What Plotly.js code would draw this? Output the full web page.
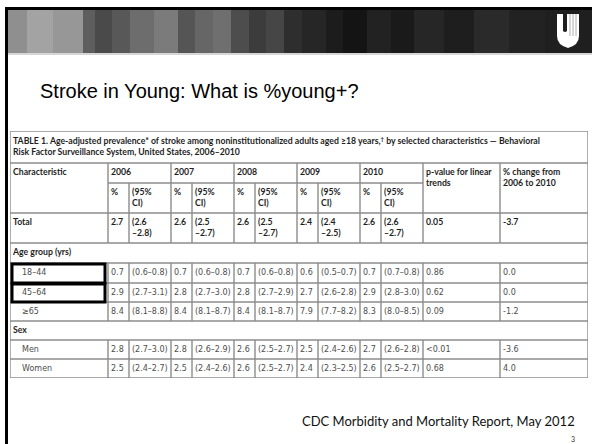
<!DOCTYPE html>
<html><head><meta charset="utf-8">
<script src="https://cdn.plot.ly/plotly-3.0.1.min.js"></script>
<style>html,body{margin:0;padding:0;background:#fff}#chart{width:592px;height:444px}</style>
</head><body><div id="chart"></div>
<script>
// ---------------- data ----------------
const slideTitle = 'Stroke in Young: What is %young+?';
const tableTitle = ['TABLE 1. Age-adjusted prevalence* of stroke among noninstitutionalized adults aged ≥18 years,<sup>†</sup> by selected characteristics — Behavioral',
                    'Risk Factor Surveillance System, United States, 2006–2010'];
const sourceNote = 'CDC Morbidity and Mortality Report, May 2012';
const pageNumber = '3';
const years = ['2006','2007','2008','2009','2010'];
const rowLabels = ['Total','Age group (yrs)','18–44','45–64','≥65','Sex','Men','Women'];
const rowKinds  = ['total','section','item','item','item','section','item','item'];
const pct2006 = [2.7,null,0.7,2.9,8.4,null,2.8,2.5];
const lo2006  = [2.6,null,0.6,2.7,8.1,null,2.7,2.4];
const hi2006  = [2.8,null,0.8,3.1,8.8,null,3.0,2.7];
const pct2007 = [2.6,null,0.7,2.8,8.4,null,2.8,2.5];
const lo2007  = [2.5,null,0.6,2.7,8.1,null,2.6,2.4];
const hi2007  = [2.7,null,0.8,3.0,8.7,null,2.9,2.6];
const pct2008 = [2.6,null,0.7,2.8,8.4,null,2.6,2.6];
const lo2008  = [2.5,null,0.6,2.7,8.1,null,2.5,2.5];
const hi2008  = [2.7,null,0.8,2.9,8.7,null,2.7,2.7];
const pct2009 = [2.4,null,0.6,2.7,7.9,null,2.5,2.4];
const lo2009  = [2.4,null,0.5,2.6,7.7,null,2.4,2.3];
const hi2009  = [2.5,null,0.7,2.8,8.2,null,2.6,2.5];
const pct2010 = [2.6,null,0.7,2.9,8.3,null,2.7,2.6];
const lo2010  = [2.6,null,0.7,2.8,8.0,null,2.6,2.5];
const hi2010  = [2.7,null,0.8,3.0,8.5,null,2.8,2.7];
const pTrend    = ['0.05',null,'0.86','0.62','0.09',null,'<0.01','0.68'];
const pctChange = [-3.7,null,0.0,0.0,-1.2,null,-3.6,4.0];
const highlighted = ['18–44','45–64'];

// ---------------- style / geometry ----------------
const W = 592, H = 444;
const colW = [98,21,42,21,42,21,42,21,42,21,42,77,88];
const rowH = [32,20,30,30,20,20,19,19,19,19,19];
const TL = 10, TT = 131;
const PAD = 3, INDENT = 9, LINE = 10.5;
const GRID = '#8c8c8c';
const REG_FONT = 'DejaVu Sans, Verdana, sans-serif';
const BOLD_FONT = 'Lato, Calibri, sans-serif';
const colE = [0]; colW.forEach(w => colE.push(colE[colE.length-1] + w));
const rowE = [0]; rowH.forEach(h => rowE.push(rowE[rowE.length-1] + h));
const TW = colE[colE.length-1], TH = rowE[rowE.length-1];

const pcts = [pct2006,pct2007,pct2008,pct2009,pct2010];
const los  = [lo2006,lo2007,lo2008,lo2009,lo2010];
const his  = [hi2006,hi2007,hi2008,hi2009,hi2010];
const f1 = v => v.toFixed(1);

const bold = {x:[],y:[],text:[]}, reg = {x:[],y:[],text:[]};
function put(t, col, y, s, extra){ t.x.push(colE[col] + PAD + (extra||0)); t.y.push(y); t.text.push(s); }
function putLines(t, col, yTop, lines, extra){ lines.forEach((s,i) => put(t, col, yTop + i*LINE, s, extra)); }

// table title
putLines(bold, 0, rowE[0] + 11, tableTitle);
// header row 1
const h1 = rowE[1] + rowH[1]/2;
put(bold, 0, h1, 'Characteristic');
years.forEach((yr,i) => put(bold, 1 + 2*i, h1, yr));
putLines(bold, 11, h1, ['p-value for linear','trends']);
putLines(bold, 12, h1, ['% change from','2006 to 2010']);
// header row 2
const h2 = rowE[2] + 10;
years.forEach((yr,i) => { put(bold, 1 + 2*i, h2, '%'); putLines(bold, 2 + 2*i, h2, ['(95%','CI)']); });
// body
rowLabels.forEach((lab, i) => {
  const r = 3 + i, kind = rowKinds[i];
  if (kind === 'section') { put(bold, 0, rowE[r] + rowH[r]/2, lab); return; }
  if (kind === 'total') {
    const yt = rowE[r] + 10;
    put(bold, 0, yt, lab);
    years.forEach((yr,k) => {
      put(bold, 1 + 2*k, yt, f1(pcts[k][i]));
      putLines(bold, 2 + 2*k, yt, ['(' + f1(los[k][i]), '–' + f1(his[k][i]) + ')']);
    });
    put(bold, 11, yt, pTrend[i]); put(bold, 12, yt, f1(pctChange[i]));
    return;
  }
  const yc = rowE[r] + rowH[r]/2;
  put(reg, 0, yc, lab, INDENT - PAD + 3);
  years.forEach((yr,k) => {
    put(reg, 1 + 2*k, yc, f1(pcts[k][i]));
    put(reg, 2 + 2*k, yc, '(' + f1(los[k][i]) + '–' + f1(his[k][i]) + ')');
  });
  put(reg, 11, yc, pTrend[i]); put(reg, 12, yc, f1(pctChange[i]));
});

const traces = [
  {type:'scatter', mode:'text', x:bold.x, y:bold.y, text:bold.text, textposition:'middle right',
   textfont:{family:BOLD_FONT, size:8.7, color:'#1e1e1e', weight:'bold'}, hoverinfo:'skip', showlegend:false, cliponaxis:false},
  {type:'scatter', mode:'text', x:reg.x, y:reg.y, text:reg.text, textposition:'middle right',
   textfont:{family:REG_FONT, size:8, color:'#4d4d4d'}, hoverinfo:'skip', showlegend:false, cliponaxis:false}
];

// ---------------- shapes ----------------
const shapes = [];
const hl = (x0,y0,x1,y1) => shapes.push({type:'line', xref:'x', yref:'y', x0, y0, x1, y1, line:{color:GRID, width:1.4}, layer:'below'});
// horizontal grid
rowE.forEach((y, r) => {
  if (r === 2) hl(colE[1], y, colE[11], y);
  else hl(0, y, TW, y);
});
// vertical grid
hl(0, 0, 0, TH); hl(TW, 0, TW, TH);
for (let r = 1; r < rowH.length; r++) {
  const bodyIdx = r - 3;
  if (bodyIdx >= 0 && rowKinds[bodyIdx] === 'section') continue;
  for (let k = 1; k < colW.length; k++) {
    if (r === 1 && k % 2 === 0 && k <= 10) continue;
    hl(colE[k], rowE[r], colE[k], rowE[r+1]);
  }
}
// highlight boxes
highlighted.forEach(lab => {
  const i = rowLabels.indexOf(lab), r = 3 + i;
  shapes.push({type:'rect', xref:'x', yref:'y', x0:colE[0]+2, x1:colE[1]-3, y0:rowE[r]+1, y1:rowE[r+1],
               line:{color:'#000', width:3}, fillcolor:'rgba(0,0,0,0)'});
});

// slide decoration (banner stripes, frame, logo)
const stripes = [[8,27,'#8f8f8f'],[27,53,'#a3a3a3'],[53,83,'#979797'],[83,95,'#5e5e5e'],[95,112,'#4a4a4a'],
  [112,130,'#585858'],[130,154,'#6d6d6d'],[154,178,'#7b7b7b'],[178,195,'#555555'],[195,213,'#666666'],
  [213,231,'#6f6f6f'],[231,249,'#4d4d4d'],[249,266,'#3c3c3c'],[266,284,'#464646'],[284,302,'#2e2e2e'],
  [302,326,'#262626'],[326,343,'#1c1c1c'],[343,367,'#141414'],[367,391,'#222222'],[391,414,'#1a1a1a'],
  [414,444,'#262626'],[444,474,'#1e1e1e'],[474,509,'#2a2a2a'],[509,545,'#222222'],[545,592,'#1f1f1f']];
stripes.forEach(([x0,x1,c]) => shapes.push({type:'rect', xref:'x2', yref:'y2', x0, x1, y0:10, y1:53, fillcolor:c, line:{width:0}, layer:'below'}));
shapes.push({type:'line', xref:'x2', yref:'y2', x0:8, x1:592, y0:54, y1:54, line:{color:'#c8c8c8', width:1.5}, layer:'below'});
shapes.push({type:'rect', xref:'x2', yref:'y2', x0:5, x1:8, y0:7, y1:444, fillcolor:'#000', line:{width:0}});
shapes.push({type:'rect', xref:'x2', yref:'y2', x0:5, x1:592, y0:7, y1:10, fillcolor:'#000', line:{width:0}});
shapes.push({type:'path', xref:'x2', yref:'y2', path:'M557,14 L579,14 L579,36 Q579,45 568,48 Q557,45 557,36 Z', fillcolor:'#ffffff', line:{width:0}});
shapes.push({type:'path', xref:'x2', yref:'y2', path:'M563,13 L567,13 L567,31 Q565,33 563,31 Z', fillcolor:'#1f1f1f', line:{width:0}});
[570,573,576].forEach(x => shapes.push({type:'line', xref:'x2', yref:'y2', x0:x, x1:x, y0:14, y1:36, line:{color:'#9a9a9a', width:0.8}}));

const layout = {
  width: W, height: H, margin:{l:0,r:0,t:0,b:0},
  paper_bgcolor:'#ffffff', plot_bgcolor:'rgba(0,0,0,0)', showlegend:false,
  title:{text:slideTitle, x:40/W, xanchor:'left', xref:'paper', y:1-91/H, yanchor:'middle', yref:'paper',
         font:{family:'Liberation Sans, Arial, sans-serif', size:20, color:'#000'}},
  xaxis:{domain:[TL/W,(TL+TW)/W], range:[0,TW], visible:false, fixedrange:true, anchor:'y'},
  yaxis:{domain:[1-(TT+TH)/H, 1-TT/H], range:[TH,0], visible:false, fixedrange:true, anchor:'x'},
  xaxis2:{domain:[0,1], range:[0,W], visible:false, fixedrange:true, anchor:'y2'},
  yaxis2:{domain:[0,1], range:[H,0], visible:false, fixedrange:true, anchor:'x2'},
  shapes: shapes,
  annotations:[
    {xref:'x2', yref:'y2', x:577, y:421, xanchor:'right', yanchor:'middle', text:sourceNote, showarrow:false,
     font:{family:'Lato, Calibri, sans-serif', size:13, color:'#111'}},
    {xref:'x2', yref:'y2', x:577, y:439, xanchor:'right', yanchor:'middle', text:pageNumber, showarrow:false,
     font:{family:'Lato, Calibri, sans-serif', size:7, color:'#333'}}
  ]
};
// placeholder trace so the decoration subplot exists
traces.push({type:'scatter', mode:'markers', x:[0], y:[0], xaxis:'x2', yaxis:'y2', marker:{size:1, opacity:0}, hoverinfo:'skip', showlegend:false});
Plotly.newPlot('chart', traces, layout, {staticPlot:true, displayModeBar:false});
</script></body></html>
